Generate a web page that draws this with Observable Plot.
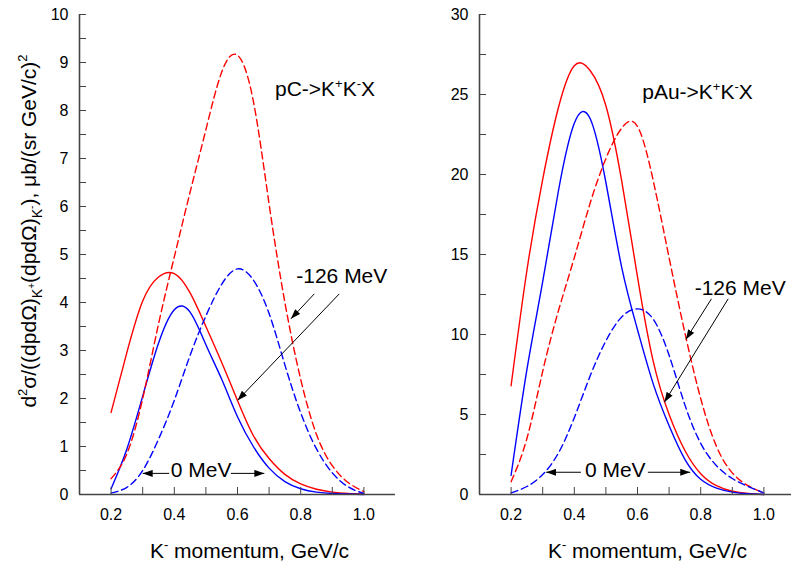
<!DOCTYPE html>
<html><head><meta charset="utf-8">
<script src="https://cdn.jsdelivr.net/npm/d3@7"></script>
<script src="https://cdn.jsdelivr.net/npm/@observablehq/plot@0.6"></script>
<style>
body{margin:0;background:#fff;}
#wrap{display:flex;width:791px;height:569px;overflow:hidden;background:#fff;}
#wrap svg{flex:none;}
</style></head><body><div id="wrap"></div>
<script>
// K- momentum grid (GeV/c)
const momentum = [0.20,0.25,0.30,0.35,0.40,0.45,0.50,0.55,0.60,0.65,0.70,0.75,0.80,0.85,0.90,0.95,1.00];

// pC -> K+K-X  (μb/(sr GeV/c)^2)
const pC_redSolid   = [1.71, 2.96, 4.03, 4.53, 4.60, 4.20, 3.50, 2.75, 1.96, 1.23, 0.75, 0.42, 0.22, 0.11, 0.05, 0.02, 0.01];
const pC_blueSolid  = [0.12, 0.95, 2.05, 3.15, 3.85, 3.80, 3.12, 2.40, 1.62, 1.00, 0.55, 0.27, 0.12, 0.05, 0.02, 0.01, 0.00];
const pC_redDashed  = [0.33, 0.85, 2.00, 3.55, 4.95, 6.30, 7.60, 8.80, 9.15, 8.20, 6.05, 4.00, 2.40, 1.25, 0.60, 0.25, 0.06];
const pC_blueDashed = [0.03, 0.15, 0.50, 1.15, 1.96, 2.90, 3.72, 4.38, 4.70, 4.47, 3.77, 2.70, 1.70, 0.95, 0.45, 0.16, 0.02];

// pAu -> K+K-X
const pAu_redSolid   = [6.8, 14.0, 19.7, 24.2, 26.8, 26.5, 24.3, 19.6, 13.6, 8.3, 5.0, 2.75, 1.30, 0.55, 0.20, 0.07, 0.00];
const pAu_blueSolid  = [1.2, 7.8, 13.3, 19.0, 23.2, 23.5, 19.5, 14.2, 10.3, 6.9, 4.3, 2.2, 0.95, 0.40, 0.15, 0.05, 0.00];
const pAu_redDashed  = [0.80, 3.5, 7.7, 11.5, 14.8, 18.2, 21.0, 22.9, 23.0, 19.6, 14.8, 10.1, 6.0, 3.0, 1.35, 0.55, 0.10];
const pAu_blueDashed = [0.10, 0.50, 1.25, 2.6, 4.8, 7.4, 9.6, 11.1, 11.6, 10.95, 8.7, 5.6, 3.2, 1.8, 1.0, 0.5, 0.10];

// axis ticks
const xMajorTicks = [0.2, 0.4, 0.6, 0.8, 1.0];
const xMinorTicks = [0.1, 0.2, 0.3, 0.4, 0.5, 0.6, 0.7, 0.8, 0.9, 1.0, 1.1];
const pC_yMajorTicks = [0,1,2,3,4,5,6,7,8,9,10];
const pC_yMinorTicks = [0,0.5,1,1.5,2,2.5,3,3.5,4,4.5,5,5.5,6,6.5,7,7.5,8,8.5,9,9.5,10];
const pAu_yMajorTicks = [0,5,10,15,20,25,30];
const pAu_yMinorTicks = [0,2.5,5,7.5,10,12.5,15,17.5,20,22.5,25,27.5,30];

// annotation texts (data coordinates, baseline)
const pC_labels = [
  {p: 0.877, v: 8.31, text: "pC->K+K-X"},
  {p: 0.930, v: 4.41, text: "-126 MeV"},
  {p: 0.4846, v: 0.37, text: "0 MeV"}
];
const pAu_labels = [
  {p: 0.790, v: 24.73, text: "pAu->K+K-X"},
  {p: 0.925, v: 12.44, text: "-126 MeV"},
  {p: 0.5295, v: 1.08, text: "0 MeV"}
];
// annotation arrows
const pC_arrows = [
  {x1: 0.843, y1: 4.18, x2: 0.769, y2: 3.66},
  {x1: 0.922, y1: 4.18, x2: 0.600, y2: 1.96},
  {x1: 0.384, y1: 0.44, x2: 0.300, y2: 0.44},
  {x1: 0.579, y1: 0.44, x2: 0.685, y2: 0.44}
];
const pAu_arrows = [
  {x1: 0.834, y1: 12.23, x2: 0.753, y2: 9.69},
  {x1: 0.887, y1: 12.23, x2: 0.685, y2: 5.77},
  {x1: 0.421, y1: 1.39, x2: 0.311, y2: 1.39},
  {x1: 0.633, y1: 1.39, x2: 0.767, y2: 1.39}
];

const xLabel = "K- momentum, GeV/c";
const yLabel = "d2σ/((dpdΩ)K+(dpdΩ)K-), μb/(sr GeV/c)2";

// rich-text replacements (sup/sub via tspans)
const rich = {
  "pC->K+K-X": [["pC->K",0,21],["+",-8,13],["K",0,21],["-",-8,13],["X",0,21]],
  "pAu->K+K-X": [["pAu->K",0,21],["+",-8,13],["K",0,21],["-",-8,13],["X",0,21]],
  "K- momentum, GeV/c": [["K",0,21],["-",-9,13],[" momentum, GeV/c",0,21]],
  "d2σ/((dpdΩ)K+(dpdΩ)K-), μb/(sr GeV/c)2": [["d",0,21],["2",-9,13],["σ/((dpdΩ)",0,21],["K",6,14],["+",-1,10],["(dpdΩ)",0,21],["K",6,14],["-",-1,10],["), μb/(sr GeV/c)",0,21],["2",-9,13]]
};

function table(values) { return momentum.map((p, i) => ({p, v: values[i]})); }

function panel({width, marginLeft, xDomain, yDomain, yMajor, yMinor, series, labels, arrows, showYLabel}) {
  const marks = [];
  for (const s of series) {
    marks.push(Plot.line(table(s.values), {x: "p", y: "v", stroke: s.color, strokeWidth: 1.4,
      strokeDasharray: s.dash, curve: "natural"}));
  }
  marks.push(Plot.ruleY([yDomain[0]], {stroke: "#444", strokeWidth: 1.6}));
  marks.push(Plot.ruleX([xDomain[0]], {stroke: "#444", strokeWidth: 1.6}));
  marks.push(Plot.axisX({ticks: xMinorTicks.filter(d => d <= xDomain[1]), tickSize: -7, fill: "none", stroke: "#444", label: null}));
  marks.push(Plot.axisX({ticks: xMajorTicks, tickSize: 0, tickPadding: 14, tickFormat: d3.format(".1f"), fill: "black", label: null}));
  marks.push(Plot.axisY({ticks: yMinor, tickSize: -7, fill: "none", stroke: "#444", label: null}));
  marks.push(Plot.axisY({ticks: yMajor, tickSize: 0, tickPadding: 11, tickFormat: d3.format("d"), fill: "black", label: null}));
  marks.push(Plot.link(arrows, {x1: "x1", y1: "y1", x2: "x2", y2: "y2", stroke: "black", strokeWidth: 1, markerEnd: "arrow"}));
  marks.push(Plot.text(labels, {x: "p", y: "v", text: "text", fontSize: 21, lineAnchor: "bottom", textAnchor: "middle", fill: "black"}));
  marks.push(Plot.text([xLabel], {frameAnchor: "bottom", textAnchor: "middle", lineAnchor: "bottom", dx: 12, dy: 63, fontSize: 21, fill: "black"}));
  if (showYLabel) {
    marks.push(Plot.text([yLabel], {frameAnchor: "left", textAnchor: "middle", lineAnchor: "middle", rotate: -90, dx: -50, dy: -23.5, fontSize: 21, fill: "black"}));
  }
  const svg = Plot.plot({
    width, height: 569, marginLeft, marginRight: 0, marginTop: 14, marginBottom: 75,
    x: {domain: xDomain}, y: {domain: yDomain},
    style: {fontFamily: "'Liberation Sans', Arial, sans-serif", fontSize: "16px", color: "black", background: "white"},
    marks
  });
  // filled arrowheads
  svg.querySelectorAll("marker").forEach(m => {
    m.setAttribute("viewBox", "-10 -3.5 10 7");
    m.setAttribute("markerWidth", 10);
    m.setAttribute("markerHeight", 7);
    m.setAttribute("fill", "black");
    m.setAttribute("stroke", "none");
    m.querySelectorAll("path").forEach(p => p.setAttribute("d", "M-10,-3.5L0,0L-10,3.5Z"));
  });
  // rich text
  svg.querySelectorAll("text").forEach(t => {
    const segs = rich[t.textContent];
    if (!segs) return;
    t.textContent = "";
    let prev = 0;
    for (const [str, shift, size] of segs) {
      const ts = document.createElementNS("http://www.w3.org/2000/svg", "tspan");
      ts.setAttribute("dy", shift - prev);
      ts.setAttribute("font-size", size);
      ts.textContent = str;
      t.appendChild(ts);
      prev = shift;
    }
  });
  return svg;
}

const wrap = document.getElementById("wrap");
wrap.appendChild(panel({
  width: 395, marginLeft: 79, xDomain: [0.1, 1.1], yDomain: [0, 10],
  yMajor: pC_yMajorTicks, yMinor: pC_yMinorTicks,
  series: [
    {values: pC_redSolid, color: "#ff0000", dash: null},
    {values: pC_blueSolid, color: "#0000ff", dash: null},
    {values: pC_redDashed, color: "#ff0000", dash: "7,4"},
    {values: pC_blueDashed, color: "#0000ff", dash: "7,4"}
  ],
  labels: pC_labels, arrows: pC_arrows, showYLabel: true
}));
wrap.appendChild(panel({
  width: 396, marginLeft: 84, xDomain: [0.1, 0.1 + 312/316], yDomain: [0, 30],
  yMajor: pAu_yMajorTicks, yMinor: pAu_yMinorTicks,
  series: [
    {values: pAu_redSolid, color: "#ff0000", dash: null},
    {values: pAu_blueSolid, color: "#0000ff", dash: null},
    {values: pAu_redDashed, color: "#ff0000", dash: "7,4"},
    {values: pAu_blueDashed, color: "#0000ff", dash: "7,4"}
  ],
  labels: pAu_labels, arrows: pAu_arrows, showYLabel: false
}));
</script></body></html>
